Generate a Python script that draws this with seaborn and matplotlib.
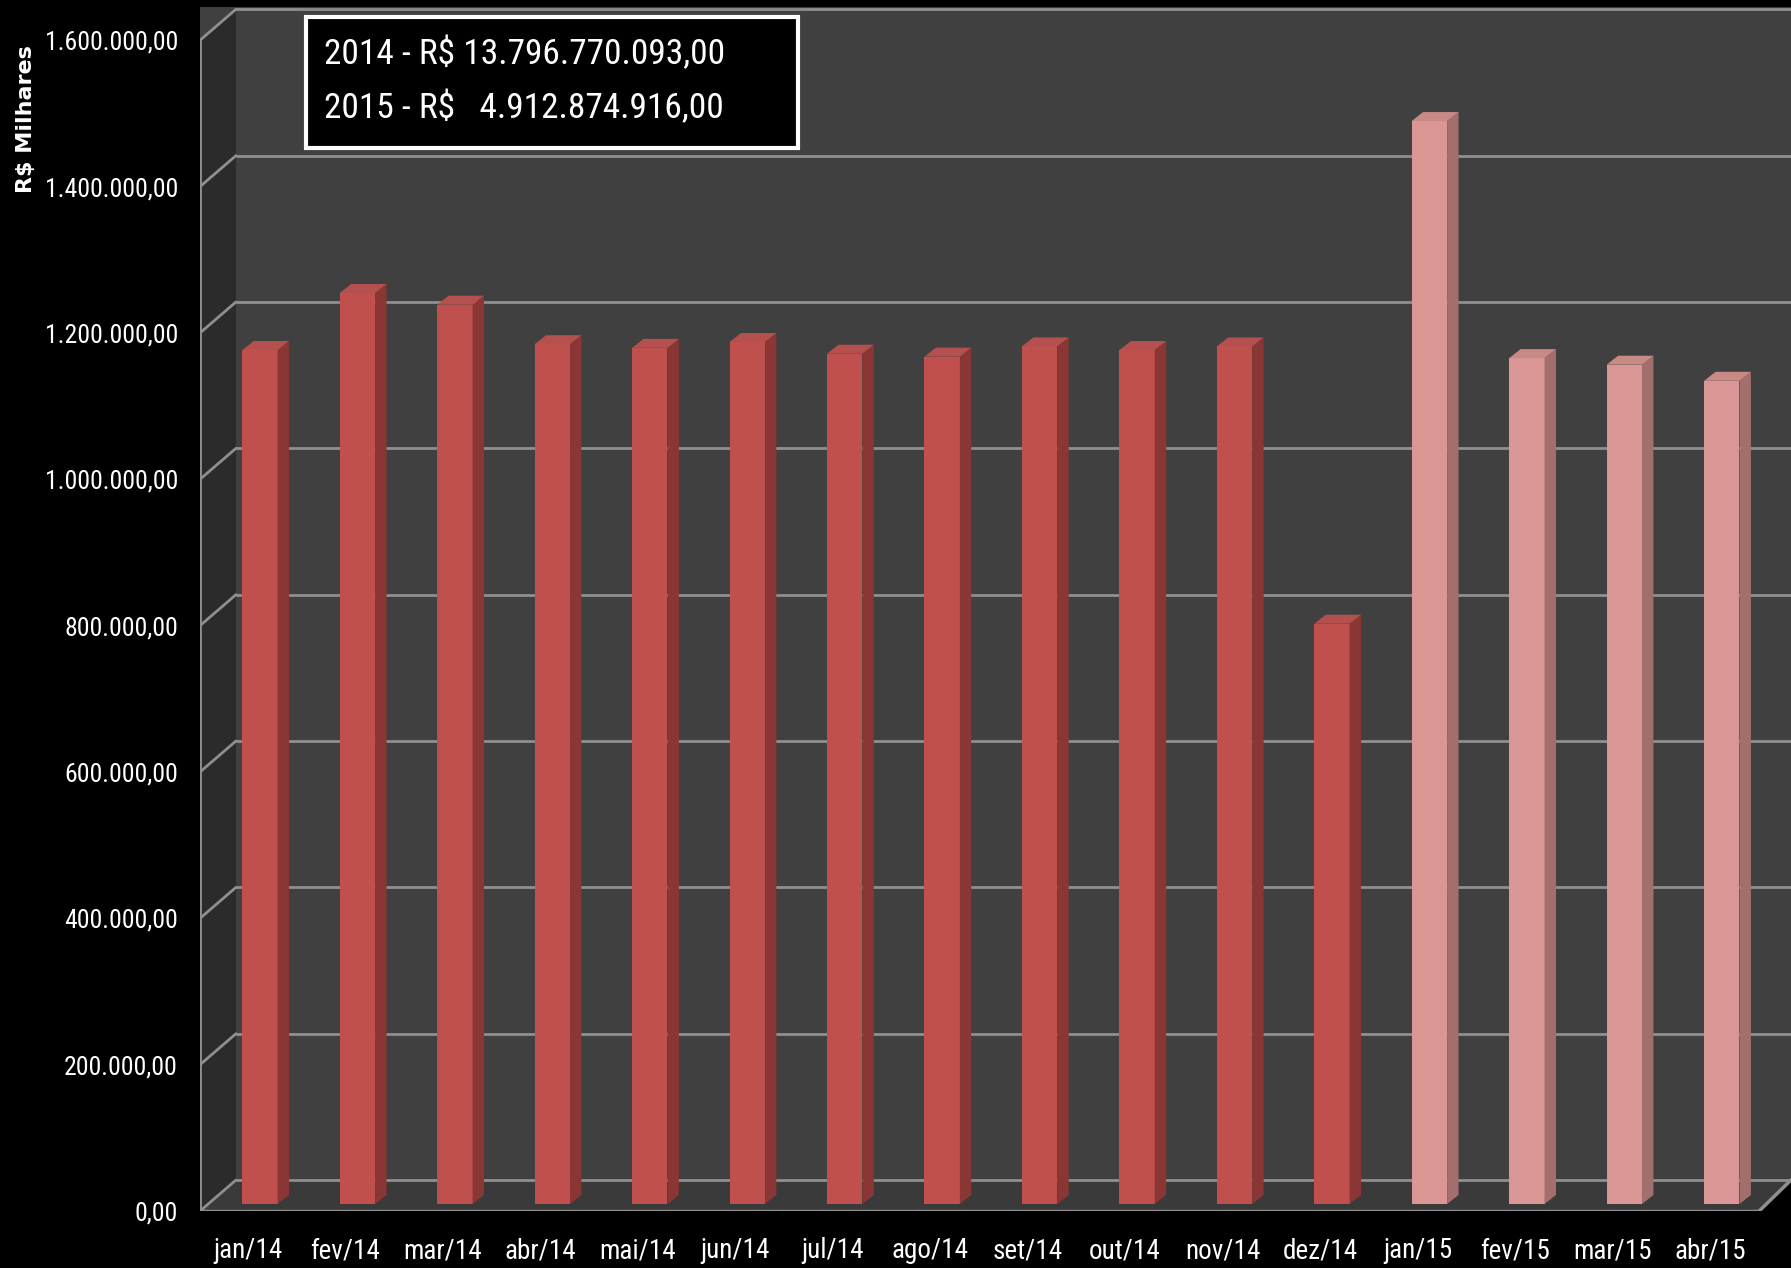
import numpy as np
import pandas as pd
import seaborn as sns
import matplotlib.pyplot as plt
from matplotlib import font_manager
from matplotlib.font_manager import FontProperties
from matplotlib.patches import Polygon, Rectangle

# dados (R$ milhares)
meses = ["jan/14", "fev/14", "mar/14", "abr/14", "mai/14", "jun/14", "jul/14", "ago/14",
         "set/14", "out/14", "nov/14", "dez/14", "jan/15", "fev/15", "mar/15", "abr/15"]
valores = [1167000, 1245000, 1229000, 1175000, 1170000, 1178000, 1162000, 1158000,
           1172000, 1167000, 1172000, 793000, 1480000, 1156000, 1147000, 1125000]
anos = ["2014", "2014", "2014", "2014", "2014", "2014", "2014", "2014",
        "2014", "2014", "2014", "2014", "2015", "2015", "2015", "2015"]
yticks = [0, 200000, 400000, 600000, 800000, 1000000, 1200000, 1400000, 1600000]
totais = ["2014 - R$ 13.796.770.093,00", "2015 - R$   4.912.874.916,00"]

cores = {"2014": "#c0504d", "2015": "#d99694"}
cores_lado = {"2014": "#8a3634", "2015": "#a26f6d"}
cores_topo = {"2014": "#b4504d", "2015": "#c98985"}


def fonte_estreita():
    lista = font_manager.fontManager.ttflist
    for nome in ["Liberation Sans Narrow", "Roboto Condensed", "Open Sans Condensed",
                 "Noto Sans Condensed", "DejaVu Sans Condensed"]:
        for f in lista:
            if f.name == nome and f.style == "normal" and f.weight in (400, "normal", "regular"):
                return f.fname
    for f in lista:
        nome_arq = f.fname.lower()
        if ("condensed" in nome_arq or "narrow" in nome_arq) and "bold" not in nome_arq \
                and "italic" not in nome_arq and "oblique" not in nome_arq \
                and "serif" not in nome_arq and "mono" not in nome_arq \
                and "light" not in nome_arq and "thin" not in nome_arq:
            return f.fname
    return None


sns.set_style("dark")
arq = fonte_estreita()
if arq:
    fp = lambda s: FontProperties(fname=arq, size=s)
    k = 1.0
else:
    fp = lambda s: FontProperties(family="DejaVu Sans", size=s)
    k = 0.8

fig = plt.figure(figsize=(17.91, 12.68), dpi=100, facecolor="black")
ax = fig.add_axes([0.1117, 0.04495, 0.8883, 0.9495])
ax.set_facecolor("#404040")

# deslocamentos do efeito 3D (em unidades de dado)
fundo_dy = 32787   # parede do fundo, ~24 px acima
frente_dy = -9563  # borda da frente, ~7 px abaixo
trans = ax.get_yaxis_transform()
xp = 0.0226  # largura da parede lateral em fração do eixo

df = pd.DataFrame({"mes": meses, "valor": valores, "ano": anos})
sns.barplot(data=df, x="mes", y="valor", hue="ano", palette=cores, dodge=False,
            width=0.363, saturation=1, legend=False, ax=ax, zorder=3,
            edgecolor="none", linewidth=0)

prof = 0.117
subida = 12300
for p in [q for q in ax.patches if isinstance(q, Rectangle)]:
    h = p.get_height()
    if not h or h <= 0:
        continue
    x0, w = p.get_x(), p.get_width()
    i = int(round(x0 + w / 2))
    ax.add_patch(Polygon([(x0 + w, 0), (x0 + w + prof, subida), (x0 + w + prof, h + subida), (x0 + w, h)],
                         fc=cores_lado[anos[i]], ec="none", zorder=3))
    ax.add_patch(Polygon([(x0, h), (x0 + prof, h + subida), (x0 + w + prof, h + subida), (x0 + w, h)],
                         fc=cores_topo[anos[i]], ec="none", zorder=3))

ax.add_patch(Polygon([(0, frente_dy), (0, 1600000 + frente_dy), (xp, 1600000 + fundo_dy), (xp, fundo_dy)],
                     transform=trans, fc="#2b2b2b", ec="none", zorder=0.5))
ax.add_patch(Polygon([(0, frente_dy), (xp, fundo_dy), (1, fundo_dy), (1, frente_dy)],
                     transform=trans, fc="#3a3a3a", ec="none", zorder=0.5))

ax.hlines(np.array(yticks) + fundo_dy, xp, 1.0, transform=trans, colors="#8f8f8f", lw=2, zorder=1)
for v in yticks:
    ax.plot([0, xp], [v + frente_dy, v + fundo_dy], transform=trans, color="#8f8f8f", lw=2, zorder=1)
ax.plot([0, 0], [frente_dy, 1600000 + frente_dy], transform=trans, color="#8f8f8f", lw=2, zorder=1)
ax.plot([0, 0.98], [frente_dy, frente_dy], transform=trans, color="#8f8f8f", lw=2.5, zorder=4)
ax.add_patch(Polygon([(0.98, frente_dy - 20000), (0.98, frente_dy), (1.0, fundo_dy), (1.0, frente_dy - 20000)],
                     transform=trans, fc="black", ec="none", zorder=4))
ax.plot([0.98, 1.0], [frente_dy, fundo_dy], transform=trans, color="#8f8f8f", lw=2.5, zorder=4)

ax.set_xlim(-0.615, 15.71)
ax.set_ylim(frente_dy, 1600000 + fundo_dy + 3000)
ax.grid(False)
for s in ax.spines.values():
    s.set_visible(False)

rotulos = [f"{v:,.2f}".replace(",", "X").replace(".", ",").replace("X", ".") for v in yticks]
ax.set_yticks(np.array(yticks) + frente_dy, labels=rotulos)
ax.set_xticks(np.arange(len(meses)) - 0.123, labels=meses)
ax.tick_params(axis="y", length=0, pad=16, labelcolor="white")
ax.tick_params(axis="x", length=0, pad=19, labelcolor="white")
for lbl in ax.get_yticklabels():
    lbl.set_fontproperties(fp(18.5 * k))
for lbl in ax.get_xticklabels():
    lbl.set_fontproperties(fp(19.5 * k))
ax.set_xlabel("")
ax.set_ylabel("")

fig.text(0.0143, 0.906, "R$ Milhares", rotation=90, ha="center", va="center",
         color="white", fontsize=16, fontweight="bold", family="DejaVu Sans")

fig.add_artist(Rectangle((0.1709, 0.8833), 0.2747, 0.1033, transform=fig.transFigure,
                         fc="black", ec="white", lw=3, zorder=10))
for txt, y in zip(totais, [0.9574, 0.9148]):
    fig.text(0.1809, y, txt, ha="left", va="center", color="white", zorder=11,
             fontproperties=fp(25.5 * k))

fig.savefig("out.png", dpi=100, facecolor="black")
